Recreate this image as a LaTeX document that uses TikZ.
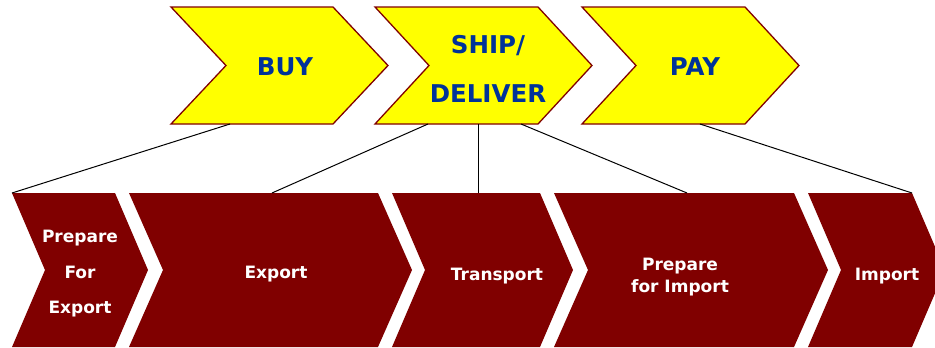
\documentclass[tikz,border=0pt]{standalone}
\usepackage{fontspec}
\setmainfont{DejaVu Sans}
\definecolor{chevyellow}{RGB}{255,255,0}
\definecolor{chevred}{RGB}{128,0,0}
\definecolor{textblue}{RGB}{0,51,153}
\newcommand{\mychev}[7]{%
  % #1 style, #2 x1, #3 x2, #4 ytop, #5 ybot, #6 depth, #7 name
  \path[#1] (#2,#4) -- (#3,#4) -- ({#3+#6},{(#4+#5)/2}) -- (#3,#5) -- (#2,#5) -- ({#2+#6},{(#4+#5)/2}) -- cycle;
}
\tikzset{
  topchev/.style={fill=chevyellow, draw=chevred, line width=1.3pt, line join=miter},
  botchev/.style={fill=chevred},
  toplabel/.style={text=textblue, font=\fontsize{24.5}{49}\selectfont\bfseries, align=center, inner sep=0pt},
  botlabel/.style={text=white, font=\fontsize{17}{22}\selectfont\bfseries, align=center, inner sep=0pt},
  link/.style={draw=black, line width=1pt}
}
\begin{document}
\begin{tikzpicture}[x=1pt,y=-1pt]
\useasboundingbox (0,0) rectangle (935,348);
\clip (0,0) rectangle (935,348);
% top chevrons
\mychev{topchev}{171}{333}{7}{124}{55}{buy}
\mychev{topchev}{375}{538}{7}{124}{54}{ship}
\mychev{topchev}{582}{745}{7}{124}{54}{pay}
% bottom chevrons
\mychev{botchev}{12}{115}{193}{347}{33}{pfe}
\mychev{botchev}{129}{378}{193}{347}{34}{exp}
\mychev{botchev}{392}{540}{193}{347}{33}{tra}
\mychev{botchev}{554}{794}{193}{347}{34}{pfi}
\mychev{botchev}{808}{912}{193}{347}{33}{imp}
% labels
\node[toplabel] (buy) at (285,67) {BUY};
\node[toplabel] (ship) at (488,69) {SHIP/\\DELIVER};
\node[toplabel] (pay) at (695,67) {PAY};
\node[botlabel, font=\fontsize{17}{35.5}\selectfont\bfseries] (pfe) at (80,274) {Prepare\\For\\Export};
\node[botlabel] (exp) at (276,274) {Export};
\node[botlabel] (tra) at (497,276) {Transport};
\node[botlabel] (pfi) at (680,277) {Prepare\\for Import};
\node[botlabel] (imp) at (887,276) {Import};
% connector end points
\coordinate (buyB) at (230,124);
\coordinate (shipB1) at (428,124);
\coordinate (shipB2) at (478,124);
\coordinate (shipB3) at (521,124);
\coordinate (payB) at (700,124);
\coordinate (pfeT) at (12,193);
\coordinate (expT) at (272,193);
\coordinate (traT) at (478,193);
\coordinate (pfiT) at (687,193);
\coordinate (impT) at (912,193);
\draw[link] (buyB) -- (pfeT);
\draw[link] (shipB1) -- (expT);
\draw[link] (shipB2) -- (traT);
\draw[link] (shipB3) -- (pfiT);
\draw[link] (payB) -- (impT);
\end{tikzpicture}
\end{document}
